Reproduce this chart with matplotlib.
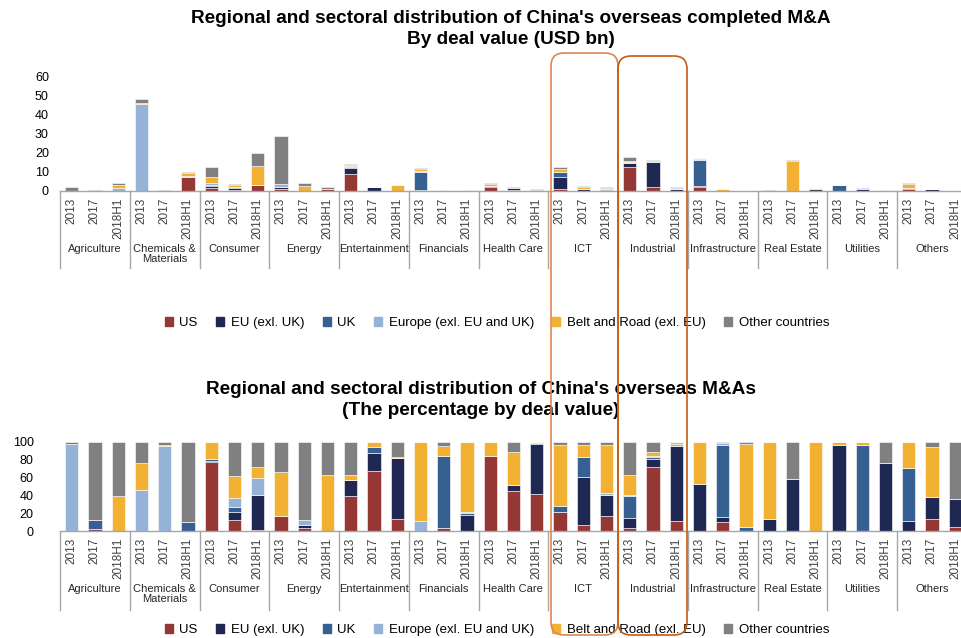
import matplotlib
matplotlib.use("Agg")
import matplotlib.pyplot as plt
import matplotlib.patches as mpatches
from matplotlib.transforms import IdentityTransform
import numpy as np

plt.rcParams['font.family'] = ['Liberation Sans', 'DejaVu Sans']

sectors = ['Agriculture', 'Chemicals &\nMaterials', 'Consumer', 'Energy', 'Entertainment',
           'Financials', 'Health Care', 'ICT', 'Industrial', 'Infrastructure',
           'Real Estate', 'Utilities', 'Others']
years = ['2013', '2017', '2018H1']
series_names = ['US', 'EU (exl. UK)', 'UK', 'Europe (exl. EU and UK)',
                'Belt and Road (exl. EU)', 'Other countries']
colors = ['#953735', '#1F2753', '#376092', '#95B3D7', '#F3B133', '#808080']

# completed M&A, USD bn (sector by sector: 2013, 2017, 2018H1)
val_us = [0, 0, 0, 0, 0, 7.2, 1.6, 0.3, 3.0, 0.9, 0, 0.8, 9.2, 0.1, 0, 0.4, 0, 0, 2.0, 0.4, 0,
          0.8, 0.2, 0.1, 12.5, 1.9, 0, 2.1, 0, 0, 0, 0, 0, 0, 0, 0, 0.8, 0, 0]
val_eu = [0, 0, 0, 0, 0, 0.4, 1.0, 1.3, 0, 1.0, 0, 0.3, 3.0, 1.9, 0, 0, 0, 0, 0.5, 1.3, 0,
          6.5, 0.8, 0.3, 2.1, 13.4, 0.9, 0.6, 0, 0, 0, 0, 1.2, 0, 1.3, 0, 0.9, 1.0, 0]
val_uk = [0, 0, 0, 0, 0, 0, 0.4, 0.4, 0, 0, 0, 0, 0.6, 0, 0, 9.6, 0, 0, 0, 0, 0,
          2.6, 0.1, 0.8, 0.2, 0, 0.1, 13.6, 0, 0, 0, 0, 0, 3.0, 0, 0, 0.1, 0, 0]
val_eur = [0, 0, 1.8, 45.6, 0, 0.4, 1.3, 0.3, 0, 1.8, 0.2, 0, 0.3, 0, 0, 0.3, 0, 0, 0, 0, 0,
           0.2, 0.2, 0, 0.2, 0.6, 0.2, 0.7, 0, 0, 0, 0, 0, 0, 0, 0, 0, 0, 0]
val_br = [0, 0, 1.5, 0.5, 0, 1.5, 3.0, 0.6, 10.0, 0, 2.3, 0, 0.6, 0, 3.3, 1.3, 0.4, 0.4, 1.1, 0, 0.6,
          1.5, 1.0, 0.5, 0.9, 0, 0.5, 0.4, 1.0, 0, 0, 16.0, 0.4, 0, 0, 0.4, 1.9, 0, 0]
val_oth = [2.0, 0.5, 1.1, 2.4, 0.5, 0.5, 5.2, 0.6, 7.0, 25.3, 1.6, 0.8, 0.5, 0.1, 0, 0.3, 0, 0,
           0.5, 0.3, 0.4, 1.0, 0.3, 0.4, 1.9, 0.4, 0.3, 0, 0.2, 0, 0.5, 0.4, 0, 0.3, 0.2, 0, 0.6, 0.2, 0]

# all M&As, percentage by deal value
pct_us = [0, 2.5, 0, 0, 0, 0, 77.2, 12.5, 1.5, 17.1, 3.4, 0, 38.8, 67.7, 13.7, 0, 3.4, 0,
          84.0, 44.5, 41.1, 21.7, 6.8, 16.7, 3.8, 71.5, 11.4, 0, 10.3, 0, 0, 0, 0, 0, 0, 0, 0, 13.7, 4.6]
pct_eu = [0, 0, 0, 0, 0, 0, 1.5, 8.4, 38.4, 0, 3.0, 0, 19.0, 19.8, 68.1, 0, 0, 17.5,
          0, 7.2, 56.7, 0, 54.0, 23.2, 10.3, 9.9, 83.7, 53.2, 4.9, 0, 13.7, 58.9, 0, 97.0, 0, 76.8, 11.4, 24.3, 31.6]
pct_uk = [0, 10.0, 0, 0, 0, 10.6, 1.9, 5.7, 0, 0, 0, 0, 0, 7.2, 0, 0, 80.6, 3.0,
          0, 0, 1.1, 6.1, 22.0, 0, 25.1, 2.3, 0, 0, 81.0, 4.2, 0, 0, 0, 0, 96.2, 0, 59.7, 0, 0]
pct_eur = [97.5, 0, 0, 45.6, 95.0, 0, 0, 10.6, 20.2, 0, 6.5, 0, 0, 0, 0, 11.4, 0, 1.1,
           0, 0, 0, 0, 0, 3.0, 1.5, 1.1, 2.3, 0, 2.7, 0.5, 0, 0, 0, 0, 0, 0, 0, 0, 0]
pct_br = [0, 0, 38.8, 30.4, 1.5, 0, 19.4, 25.1, 12.2, 49.4, 0, 63.1, 4.6, 5.3, 1.5, 88.6, 11.8, 78.4,
          16.0, 37.6, 1.1, 68.8, 14.1, 53.6, 21.7, 3.8, 2.6, 46.8, 0, 93.2, 86.3, 0, 99.6, 3.0, 3.8, 0, 28.9, 55.9, 0]
pct_oth = [2.5, 87.5, 61.2, 24.0, 3.5, 89.4, 0, 37.7, 27.7, 33.5, 87.1, 36.9, 37.6, 0, 16.7, 0, 4.2, 0,
           0, 10.7, 0, 3.4, 3.1, 3.5, 37.6, 11.4, 0, 0, 1.1, 2.1, 0, 41.1, 0.4, 0, 0, 23.2, 0, 6.1, 63.8]

W, H = 961, 638
fig = plt.figure(figsize=(W / 100, H / 100), dpi=100)

x = np.arange(len(sectors) * len(years))
line_gray = '#A6A6A6'
text_gray = '#404040'


def draw_panel(ax, data, yticks, ymax, pad, sep_depth):
    bottom = np.zeros(len(x))
    for vals, col in zip(data, colors):
        vals = np.array(vals, dtype=float)
        ax.bar(x, vals, width=0.57, bottom=bottom, color=col,
               edgecolor='white', linewidth=0.4)
        bottom += vals
    ax.set_xlim(-0.5, 38.25)
    ax.set_ylim(0, ymax)
    ax.set_yticks(yticks)
    ax.set_xticks([])
    ax.tick_params(axis='y', length=0, pad=pad, labelsize=9)
    for s in ['top', 'right', 'left']:
        ax.spines[s].set_visible(False)
    ax.spines['bottom'].set_color(line_gray)
    ax.spines['bottom'].set_linewidth(1)
    tr = ax.get_xaxis_transform()
    # group separators
    for g in range(len(sectors) + 1):
        xs = g * 3 - 0.5
        ax.plot([xs, xs], [0, -sep_depth], transform=tr, color=line_gray,
                lw=1, clip_on=False)
    # year labels and sector labels
    for i in x:
        ax.annotate(years[i % 3], xy=(i, 0), xycoords=tr, xytext=(0, -7),
                    textcoords='offset pixels', rotation=90, ha='center', va='top',
                    fontsize=8.5, color=text_gray)
    for g, name in enumerate(sectors):
        ax.annotate(name, xy=(g * 3 + 1, 0), xycoords=tr, xytext=(0, -53),
                    textcoords='offset pixels', ha='center', va='top',
                    fontsize=8, color='#262626', linespacing=1.0)


# top panel
ax1 = fig.add_axes([60 / W, (H - 191) / H, (W - 60) / W, 114 / H])
draw_panel(ax1, [val_us, val_eu, val_uk, val_eur, val_br, val_oth],
           [0, 10, 20, 30, 40, 50, 60], 60, 8, 77 / 114)

# bottom panel
ax2 = fig.add_axes([60 / W, (H - 531) / H, (W - 60) / W, 89 / H])
draw_panel(ax2, [pct_us, pct_eu, pct_uk, pct_eur, pct_br, pct_oth],
           [0, 20, 40, 60, 80, 100], 100, 19, 79 / 89)

fig.text(511 / W, 1 - 29 / H,
         "Regional and sectoral distribution of China's overseas completed M&A\nBy deal value (USD bn)",
         ha='center', va='center', fontsize=13.7, fontweight='bold', linespacing=1.25)
fig.text(481 / W, 1 - 400 / H,
         "Regional and sectoral distribution of China's overseas M&As\n(The percentage by deal value)",
         ha='center', va='center', fontsize=13.7, fontweight='bold', linespacing=1.25)

handles = [mpatches.Patch(color=c, label=n) for c, n in zip(colors, series_names)]
for ly in [323, 630]:
    fig.legend(handles=handles, loc='center', bbox_to_anchor=(497 / W, 1 - ly / H),
               ncol=6, frameon=False, fontsize=9.5, handlelength=0.6, handleheight=0.6,
               handletextpad=0.5, columnspacing=1.4)

# orange highlight boxes around ICT and Industrial
for x0, x1, top, col in [(551, 618, 53, '#DB8750'), (618, 687, 56, '#C55A11')]:
    box = mpatches.FancyBboxPatch((x0, 3), x1 - x0, H - top - 3,
                                  boxstyle='round,pad=0,rounding_size=13',
                                  transform=IdentityTransform(), fill=False,
                                  edgecolor=col, linewidth=1.2, zorder=10)
    fig.add_artist(box)

fig.savefig('out.png', dpi=100)
